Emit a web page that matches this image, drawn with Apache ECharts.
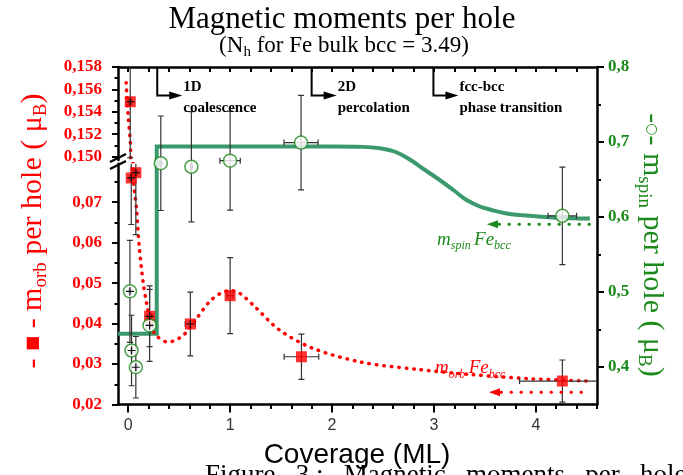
<!DOCTYPE html>
<html><head><meta charset="utf-8">
<script src="https://cdn.jsdelivr.net/npm/echarts@6/dist/echarts.min.js"></script>
<style>html,body{margin:0;padding:0;background:#fff}#c{width:683px;height:475px}</style>
</head><body><div id="c"></div><script>
// ---------- data ----------
const orbX    = [0.02, 0.03, 0.075, 0.21, 0.61, 1.0, 1.70, 4.26];
const orbY    = [0.1549, 0.0760, 0.0773, 0.0418, 0.0399, 0.0469, 0.0318, 0.0258];
const orbErrY = [0.005, 0.0115, 0.0153, 0.0075, 0.0079, 0.0094, 0.0056, 0.0052];
const orbErrX = [0.015, 0.015, 0.015, 0.02, 0.05, 0.03, 0.17, 0.42];

const spinX    = [0.017, 0.033, 0.075, 0.21, 0.32, 0.62, 1.0, 1.696, 4.26];
const spinY    = [0.5009, 0.422, 0.3997, 0.4555, 0.6717, 0.667, 0.6751, 0.6992, 0.6016];
const spinErrY = [0.068, 0.047, 0.041, 0.048, 0.063, 0.0735, 0.066, 0.063, 0.065];
const spinErrX = [0.01, 0.01, 0.01, 0.03, 0.01, 0.01, 0.10, 0.167, 0.14];

const orbFitX = [-0.02, 0.0, 0.024, 0.05, 0.082, 0.108, 0.147, 0.18, 0.23, 0.28, 0.39, 0.54, 0.67, 0.8, 0.9, 1.0, 1.1, 1.25, 1.48, 1.8, 2.28, 2.83, 3.37, 3.92, 4.51];
const orbFitY = [0.1566, 0.1536, 0.1506, 0.0764, 0.0682, 0.0591, 0.0501, 0.0451, 0.039, 0.0369, 0.0354, 0.0371, 0.0412, 0.0455, 0.0474, 0.0482, 0.0474, 0.0440, 0.0385, 0.0340, 0.0305, 0.0287, 0.0274, 0.0264, 0.0258];

const spinStepX = [-0.1, 0.28, 0.28, 2.0];
const spinStepY = [0.4444, 0.4444, 0.6939, 0.6939];
const spinCurveX = [2.0, 2.3, 2.47, 2.62, 2.77, 2.92, 3.06, 3.2, 3.32, 3.45, 3.55, 3.7, 3.85, 4.2, 4.53];
const spinCurveY = [0.6939, 0.6935, 0.6917, 0.687, 0.676, 0.662, 0.649, 0.635, 0.6226, 0.614, 0.610, 0.605, 0.6025, 0.599, 0.598];

const orbRef = [3.54, 4.51, 0.0230];     // arrow from x to x, at y
const spinRef = [3.52, 4.53, 0.5905];
const orbRefLabel = [3.01, 0.0289];
const spinRefLabel = [3.03, 0.569];

const annX = [0.285, 1.80, 2.995];
const annArrowV = 0.762;
const annLine1 = ['1D', '2D', 'fcc-bcc'];
const annLine2 = ['coalescence', 'percolation', 'phase transition'];

// tick values / labels
const xLabels = [0, 1, 2, 3, 4];
const xMinor = [0.2,0.4,0.6,0.8,1.2,1.4,1.6,1.8,2.2,2.4,2.6,2.8,3.2,3.4,3.6,3.8,4.2,4.4,4.6];
const xTop = [0,0.2,0.4,0.6,0.8,1,1.2,1.4,1.6,1.8,2,2.2,2.4,2.6,2.8,3,3.2,3.4,3.6,3.8,4,4.2,4.4];
const rightLabels = [0.4, 0.5, 0.6, 0.7, 0.8];
const rightMinor = [0.45, 0.55, 0.65, 0.75];
const upLabels = [0.150, 0.152, 0.154, 0.156, 0.158];
const upMinor = [0.151, 0.153, 0.155, 0.157];
const lowLabels = [0.02, 0.03, 0.04, 0.05, 0.06, 0.07];
const lowMinor = [0.025, 0.035, 0.045, 0.055, 0.065, 0.075];

// ---------- chart ----------
const RED = '#ff0000', GREEN = '#1b8a1b', FIT = '#3a9a6e';
const SERIF = '"Liberation Serif", "Times New Roman", serif';
const pairs = (xs, ys) => xs.map((x, i) => [x, ys[i]]);

function xAx(grid, pos, opts) {
  return Object.assign({
    type: 'value', gridIndex: grid, position: pos, min: -0.1, max: 4.6,
    splitLine: {show: false},
    axisLine: {show: false, onZero: false},
    axisTick: {show: false}, axisLabel: {show: false}
  }, opts);
}
function yAx(grid, pos, min, max, labels, ticks, len, dec, color, showLine, margin) {
  return {
    type: 'value', gridIndex: grid, position: pos, min, max,
    splitLine: {show: false},
    axisLine: {show: showLine, onZero: false, lineStyle: {color: '#000', width: 2.5}},
    axisTick: {show: true, customValues: ticks, length: len, lineStyle: {color: '#000', width: 2}},
    axisLabel: {show: !!labels, customValues: labels || [], margin: margin || 8,
      formatter: v => v.toFixed(dec).replace('.', ','),
      color, fontFamily: SERIF, fontWeight: 'bold', fontSize: 17}
  };
}

function errRender(params, api) {
  const x = api.value(0), y = api.value(1), dx = api.value(2), dy = api.value(3);
  const c = api.coord([x, y]);
  const t = api.coord([x, y + dy]), b = api.coord([x, y - dy]);
  const l = api.coord([x - dx, y]), r = api.coord([x + dx, y]);
  const st = {stroke: '#333', lineWidth: 1.2};
  const cap = 3;
  return {type: 'group', children: [
    {type: 'line', shape: {x1: c[0], y1: t[1], x2: c[0], y2: b[1]}, style: st},
    {type: 'line', shape: {x1: c[0] - cap, y1: t[1], x2: c[0] + cap, y2: t[1]}, style: st},
    {type: 'line', shape: {x1: c[0] - cap, y1: b[1], x2: c[0] + cap, y2: b[1]}, style: st},
    {type: 'line', shape: {x1: l[0], y1: c[1], x2: r[0], y2: c[1]}, style: st},
    {type: 'line', shape: {x1: l[0], y1: c[1] - cap, x2: l[0], y2: c[1] + cap}, style: st},
    {type: 'line', shape: {x1: r[0], y1: c[1] - cap, x2: r[0], y2: c[1] + cap}, style: st}
  ]};
}
function crossRender(params, api) {
  const c = api.coord([api.value(0), api.value(1)]);
  const st = {stroke: '#111', lineWidth: 1.2};
  return {type: 'group', children: [
    {type: 'line', shape: {x1: c[0] - 4, y1: c[1], x2: c[0] + 4, y2: c[1]}, style: st},
    {type: 'line', shape: {x1: c[0], y1: c[1] - 4, x2: c[0], y2: c[1] + 4}, style: st}
  ]};
}
function refRender(color) {
  return function (params, api) {
    const p1 = api.coord([api.value(0), api.value(2)]);
    const p2 = api.coord([api.value(1), api.value(2)]);
    return {type: 'group', children: [
      {type: 'line', shape: {x1: p1[0] + 12, y1: p1[1], x2: p2[0], y2: p2[1]},
        style: {stroke: color, lineWidth: 3, lineDash: [0.5, 9.5], lineCap: 'round'}},
      {type: 'polygon', shape: {points: [[p1[0], p1[1]], [p1[0] + 11, p1[1] - 4], [p1[0] + 11, p1[1] + 4]]},
        style: {fill: color}}
    ]};
  };
}
function labRender(color, sub1) {
  return function (params, api) {
    const p = api.coord([api.value(0), api.value(1)]);
    return {type: 'text', x: p[0], y: p[1], style: {
      text: '{m|m}{s|' + sub1 + '} {m|Fe}{s|bcc}', align: 'left', verticalAlign: 'middle',
      rich: {
        m: {fontFamily: SERIF, fontStyle: 'italic', fontSize: 19, fill: color},
        s: {fontFamily: SERIF, fontStyle: 'italic', fontSize: 12, fill: color, padding: [12, 0, 0, 0]}
      }
    }};
  };
}
function annRender(params, api) {
  const i = params.dataIndex;
  const p = api.coord([api.value(0), api.value(1)]);
  const top = params.coordSys.y;
  const ax = p[0], ay = p[1];
  const font = 'bold 15px ' + SERIF;
  return {type: 'group', children: [
    {type: 'polyline', shape: {points: [[ax, top], [ax, ay], [ax + 14, ay]]}, style: {stroke: '#000', lineWidth: 2, fill: null}},
    {type: 'polygon', shape: {points: [[ax + 12, ay - 4], [ax + 25, ay], [ax + 12, ay + 4]]}, style: {fill: '#000'}},
    {type: 'text', x: ax + 26, y: ay - 8, style: {text: annLine1[i], font, fill: '#000', align: 'left', verticalAlign: 'middle'}},
    {type: 'text', x: ax + 26, y: ay + 13, style: {text: annLine2[i], font, fill: '#000', align: 'left', verticalAlign: 'middle'}}
  ]};
}

const G0 = {left: 118, top: 67, width: 479, height: 337.5};
const G1 = {left: 118, top: 67, width: 479, height: 93};
const G2 = {left: 118, top: 163.8, width: 479, height: 240.7};

const option = {
  animation: false,
  backgroundColor: '#fff',
  grid: [G0, G1, G2],
  xAxis: [
    xAx(0, 'bottom', {
      axisLine: {show: true, onZero: false, lineStyle: {color: '#000', width: 2.5}},
      axisTick: {show: true, customValues: xLabels, length: 8, lineStyle: {color: '#000', width: 2}},
      axisLabel: {show: true, customValues: xLabels, margin: 13, color: '#333', fontFamily: '"Liberation Sans", Arial, sans-serif', fontSize: 16}
    }),
    xAx(0, 'bottom', {axisTick: {show: true, customValues: xMinor, length: 4.5, lineStyle: {color: '#000', width: 2}}}),
    xAx(0, 'top', {
      axisLine: {show: true, onZero: false, lineStyle: {color: '#000', width: 2.5}},
      axisTick: {show: true, inside: true, customValues: xTop, length: 5, lineStyle: {color: '#000', width: 2}}
    }),
    xAx(1, 'bottom', {}),
    xAx(2, 'bottom', {})
  ],
  yAxis: [
    yAx(0, 'right', 0.35, 0.8, rightLabels, rightLabels, 7, 1, GREEN, true, 11),
    yAx(0, 'right', 0.35, 0.8, null, rightMinor, 4, 1, GREEN, false),
    yAx(1, 'left', 0.1497, 0.158, upLabels, upLabels, 6, 3, RED, true, 16),
    yAx(1, 'left', 0.1497, 0.158, null, upMinor, 3.5, 3, RED, false),
    yAx(2, 'left', 0.02, 0.0795, lowLabels, lowLabels, 6, 2, RED, true, 16),
    yAx(2, 'left', 0.02, 0.0795, null, lowMinor, 3.5, 2, RED, false)
  ],
  series: [
    {type: 'line', xAxisIndex: 0, yAxisIndex: 0, data: pairs(spinStepX, spinStepY), symbol: 'none',
      lineStyle: {color: FIT, width: 4, join: 'miter'}, z: 3, silent: true},
    {type: 'line', xAxisIndex: 0, yAxisIndex: 0, data: pairs(spinCurveX, spinCurveY), symbol: 'none', smooth: 0.4,
      lineStyle: {color: FIT, width: 4}, z: 3, silent: true},
    {type: 'line', xAxisIndex: 3, yAxisIndex: 2, data: pairs(orbFitX, orbFitY).slice(0, 4), symbol: 'none', smooth: 0.3, clip: true,
      lineStyle: {color: RED, width: 3.5, type: [0.5, 7], cap: 'round'}, z: 4, silent: true},
    {type: 'line', xAxisIndex: 4, yAxisIndex: 4, data: pairs(orbFitX, orbFitY).slice(2), symbol: 'none', smooth: 0.3, clip: true,
      lineStyle: {color: RED, width: 3.5, type: [0.5, 7], cap: 'round'}, z: 4, silent: true},
    {type: 'custom', xAxisIndex: 3, yAxisIndex: 2, clip: true, z: 5, silent: true, renderItem: errRender,
      data: orbX.map((x, i) => [x, orbY[i], orbErrX[i], orbErrY[i]])},
    {type: 'custom', xAxisIndex: 4, yAxisIndex: 4, clip: true, z: 5, silent: true, renderItem: errRender,
      data: orbX.map((x, i) => [x, orbY[i], orbErrX[i], orbErrY[i]])},
    {type: 'custom', xAxisIndex: 0, yAxisIndex: 0, clip: true, z: 5, silent: true, renderItem: errRender,
      data: spinX.map((x, i) => [x, spinY[i], spinErrX[i], spinErrY[i]])},
    {type: 'scatter', xAxisIndex: 3, yAxisIndex: 2, clip: true, z: 6, silent: true, data: pairs(orbX, orbY),
      symbol: 'rect', symbolSize: 11, itemStyle: {color: RED}},
    {type: 'scatter', xAxisIndex: 4, yAxisIndex: 4, clip: true, z: 6, silent: true, data: pairs(orbX, orbY),
      symbol: 'rect', symbolSize: 11, itemStyle: {color: RED}},
    {type: 'scatter', xAxisIndex: 0, yAxisIndex: 0, clip: true, z: 6, silent: true, data: pairs(spinX, spinY),
      symbol: 'circle', symbolSize: 13, itemStyle: {color: '#fff', borderColor: GREEN, borderWidth: 1.5}},
    {type: 'custom', xAxisIndex: 3, yAxisIndex: 2, clip: true, z: 7, silent: true, renderItem: crossRender,
      data: pairs(orbX, orbY).filter(p => p[0] < 0.7)},
    {type: 'custom', xAxisIndex: 4, yAxisIndex: 4, clip: true, z: 7, silent: true, renderItem: crossRender,
      data: pairs(orbX, orbY).filter(p => p[0] < 0.7)},
    {type: 'custom', xAxisIndex: 0, yAxisIndex: 0, clip: true, z: 7, silent: true, renderItem: crossRender,
      data: pairs(spinX, spinY).filter(p => p[0] < 0.3)},
    {type: 'custom', xAxisIndex: 4, yAxisIndex: 4, z: 8, silent: true, renderItem: refRender(RED), data: [orbRef]},
    {type: 'custom', xAxisIndex: 0, yAxisIndex: 0, z: 8, silent: true, renderItem: refRender(GREEN), data: [spinRef]},
    {type: 'custom', xAxisIndex: 4, yAxisIndex: 4, z: 8, silent: true, renderItem: labRender(RED, 'orb'), data: [orbRefLabel]},
    {type: 'custom', xAxisIndex: 0, yAxisIndex: 0, z: 8, silent: true, renderItem: labRender(GREEN, 'spin'), data: [spinRefLabel]},
    {type: 'custom', xAxisIndex: 0, yAxisIndex: 0, z: 8, silent: true, renderItem: annRender,
      data: annX.map(x => [x, annArrowV])}
  ],
  graphic: [
    {type: 'text', x: 342, y: 20, style: {text: 'Magnetic moments per hole', font: '31px ' + SERIF, fill: '#000', align: 'center', verticalAlign: 'middle'}},
    {type: 'text', x: 344, y: 46, style: {text: '(N{s|h} for Fe bulk bcc = 3.49)', align: 'center', verticalAlign: 'middle',
      font: '23px ' + SERIF, fill: '#000',
      rich: {s: {fontFamily: SERIF, fontSize: 15, fill: '#000', padding: [12, 0, 0, 0]}}}},
    {type: 'text', x: 33, y: 231, rotation: Math.PI / 2, style: {
      text: '{a|- }{q|■}{a| - m}{s|orb}{a| per hole ( μ}{s|B}{a|)}', align: 'center', verticalAlign: 'middle',
      rich: {
        a: {fontFamily: SERIF, fontSize: 30, fill: RED},
        q: {fontFamily: 'DejaVu Sans', fontSize: 16, fill: RED},
        s: {fontFamily: SERIF, fontSize: 19, fill: RED, padding: [16, 0, 0, 0]}
      }}},
    {type: 'text', x: 652, y: 245, rotation: -Math.PI / 2, style: {
      text: '{a|-}{o|○}{a|- m}{s|spin}{a| per hole ( μ}{s|B}{a|)}', align: 'center', verticalAlign: 'middle',
      rich: {
        a: {fontFamily: SERIF, fontSize: 30, fill: GREEN},
        o: {fontFamily: 'DejaVu Sans', fontSize: 14, fill: GREEN},
        s: {fontFamily: SERIF, fontSize: 19, fill: GREEN, padding: [16, 0, 0, 0]}
      }}},
    {type: 'text', x: 357, y: 455, style: {text: 'Coverage (ML)', font: '28px "Liberation Sans", Arial, sans-serif', fill: '#000', align: 'center', verticalAlign: 'middle'}},
    {type: 'text', x: 205, y: 462, style: {text: 'Figure   3 :   Magnetic   moments   per   hole', font: '27px ' + SERIF, fill: '#000', align: 'left', verticalAlign: 'top'}},
    {type: 'line', shape: {x1: 110, y1: 162, x2: 126, y2: 154}, style: {stroke: '#000', lineWidth: 2.5}},
    {type: 'line', shape: {x1: 110, y1: 169, x2: 126, y2: 161}, style: {stroke: '#000', lineWidth: 2.5}}
  ]
};
const chart = echarts.init(document.getElementById('c'), null, {renderer: 'canvas'});
chart.setOption(option);
</script></body></html>
